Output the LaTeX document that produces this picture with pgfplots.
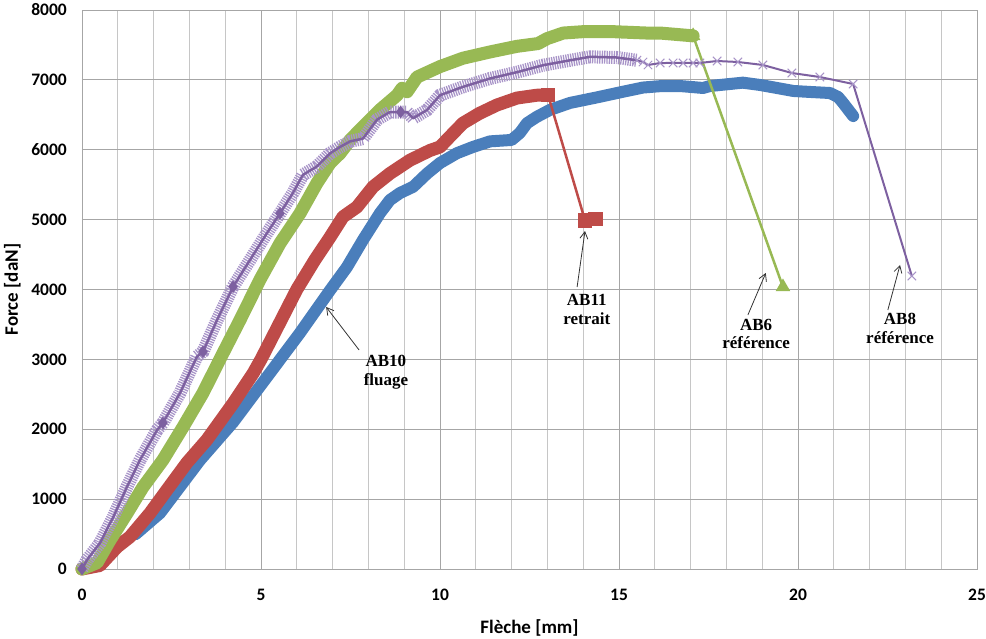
\documentclass[border=0pt]{standalone}
\usepackage{pgfplots}
\pgfplotsset{compat=1.18}
\usepackage{fontspec}
\setmainfont{Carlito}
\newfontfamily\tnr{Liberation Serif}
\usetikzlibrary{arrows.meta}
\definecolor{cblue}{HTML}{4A7EBB}
\definecolor{cred}{HTML}{BE4B48}
\definecolor{cgreen}{HTML}{98B954}
\definecolor{cpurple}{HTML}{7D60A0}
\definecolor{cpurplel}{HTML}{A894C8}
\begin{document}
\begin{tikzpicture}
\path[use as bounding box] (-82pt,-70pt) rectangle (904pt,569pt);
\begin{axis}[at={(0pt,0pt)}, anchor=south west, scale only axis,
  width=895pt, height=559pt,
  xmin=0, xmax=25, ymin=0, ymax=8000,
  xtick={0,5,...,25}, ytick={0,1000,...,8000}, minor x tick num=4,
  grid=both,
  major grid style={color=gray!70, line width=0.8pt},
  minor grid style={color=gray!45, line width=0.8pt},
  axis line style={gray!70, line width=0.8pt},
  major tick length=0pt, minor tick length=0pt,
  tick label style={font=\bfseries\fontsize{17.5}{19}\selectfont},
  /pgf/number format/assume math mode=true,
  /pgf/number format/1000 sep={},
  xticklabel style={inner sep=0pt, yshift=-20pt},
  yticklabel style={inner sep=0pt, xshift=-15pt},
  xlabel={Flèche [mm]}, ylabel={Force [daN]},
  label style={font=\bfseries\fontsize{19}{21}\selectfont},
  xlabel style={at={(axis description cs:0.5,-0.0894)}, anchor=north, inner sep=0pt},
  ylabel style={at={(axis description cs:-0.0682,0.5)}, anchor=south, inner sep=0pt},
  clip=false]

% AB10 fluage (blue)
\addplot[cblue, line width=12pt, line join=round, line cap=round] coordinates {
(1.5,500)(2.18,800)(3.3,1560)(4.22,2100)(5.17,2750)(6.09,3380)(6.93,3990)
(7.4,4320)(7.85,4710)(8.32,5090)(8.6,5280)(8.88,5380)(9.25,5470)(9.64,5660)
(10.0,5810)(10.47,5950)(10.92,6040)(11.4,6120)(12.0,6140)(12.23,6240)
(12.43,6380)(12.7,6470)(13.07,6570)(13.63,6670)(14.39,6750)(15.11,6830)
(15.67,6890)(16.15,6910)(16.7,6912)(17.35,6884)(17.54,6912)(18.46,6960)
(18.94,6927)(19.41,6884)(19.87,6841)(20.34,6827)(20.89,6812)(21.12,6755)
(21.26,6669)(21.54,6483)};
\addplot[cblue, only marks, mark=diamond*, mark size=6pt] coordinates {(21.26,6669)(21.54,6483)};

% AB11 retrait (red)
\addplot[cred, line width=13pt, line join=round, line cap=round] coordinates {
(0,0)(0.5,50)(0.98,315)(1.34,460)(1.9,800)(2.37,1130)(2.93,1520)(3.49,1850)
(4.22,2370)(4.78,2800)(5.0,3000)(5.5,3500)(6.0,4000)(6.5,4420)(6.93,4750)
(7.29,5040)(7.68,5180)(8.13,5470)(8.6,5660)(9.16,5850)(9.72,5990)(10.0,6040)
(10.28,6190)(10.64,6380)(11.1,6520)(11.59,6640)(12.15,6740)(12.7,6780)(13.02,6780)};
\addplot[cred, line width=2.5pt, mark=square*, mark size=6pt] coordinates {
(13.02,6780)(14.05,4990)(14.35,5010)};

% AB6 reference (green)
\addplot[cgreen, line width=13pt, line join=round, line cap=round] coordinates {
(0,0)(0.42,90)(0.78,410)(1.26,800)(1.7,1170)(2.26,1560)(2.82,2030)(3.38,2520)
(3.94,3090)(4.41,3560)(4.97,4140)(5.53,4660)(6.09,5090)(6.56,5520)(6.93,5810)
(7.21,5950)(7.49,6140)(7.85,6330)(8.32,6570)(8.8,6780)(8.94,6880)(9.08,6830)
(9.36,7040)(10.0,7190)(10.64,7310)(11.4,7400)(12.15,7480)(12.74,7520)
(12.99,7590)(13.44,7670)(14.0,7690)(14.83,7690)(15.78,7670)(16.15,7670)(17.07,7630)};
\addplot[cgreen, line width=2.5pt, mark=triangle*, mark size=6pt] coordinates {
(17.07,7630)(19.58,4036)};

% AB8 reference (purple)
\addplot[cpurplel, line width=13pt, line cap=butt, dash pattern=on 1.3pt off 1.1pt] coordinates {
(0,0)(0.14,130)(0.5,370)(0.87,740)(1.26,1180)(1.62,1560)(2.1,1990)(2.26,2090)
(2.74,2520)(3.21,3040)(3.38,3110)(3.77,3560)(4.22,4040)(4.69,4420)(5.17,4810)
(5.53,5090)(5.89,5380)(6.17,5640)(6.56,5760)(6.93,5950)(7.21,6040)(7.49,6120)
(7.85,6160)(8.24,6430)(8.6,6540)(9.08,6540)(9.25,6450)(9.64,6570)(10.0,6780)
(10.64,6900)(11.4,7020)(12.15,7110)(12.88,7210)(13.63,7280)(14.19,7330)
(14.94,7320)(15.5,7280)};
\addplot[cpurple, line width=2.5pt, line join=round] coordinates {
(0,0)(0.14,130)(0.5,370)(0.87,740)(1.26,1180)(1.62,1560)(2.1,1990)(2.26,2090)
(2.74,2520)(3.21,3040)(3.38,3110)(3.77,3560)(4.22,4040)(4.69,4420)(5.17,4810)
(5.53,5090)(5.89,5380)(6.17,5640)(6.56,5760)(6.93,5950)(7.21,6040)(7.49,6120)
(7.85,6160)(8.24,6430)(8.6,6540)(9.08,6540)(9.25,6450)(9.64,6570)(10.0,6780)
(10.64,6900)(11.4,7020)(12.15,7110)(12.88,7210)(13.63,7280)(14.19,7330)
(14.94,7320)(15.5,7280)};
\addplot[cpurple, line width=2pt, mark=x, mark size=6pt, mark options={cpurplel, line width=1pt}] coordinates {
(15.5,7280)(15.67,7256)(15.81,7213)(16.15,7241)(16.51,7242)(16.79,7242)(17.07,7242)
(17.26,7242)(17.74,7270)(18.32,7256)(19.02,7213)(19.83,7098)(20.61,7041)
(21.54,6941)(23.18,4193)};
\addplot[cpurple, only marks, mark=diamond*, mark size=6pt] coordinates {
(0,0)(2.26,2090)(3.38,3110)(4.22,4040)(5.53,5090)(8.9,6540)};

% annotations
\tikzset{ann/.style={font=\tnr\bfseries\fontsize{17}{19}\selectfont, anchor=base, inner sep=0pt},
  arr/.style={-{Straight Barb[length=7pt,width=8pt]}, line width=0.8pt, black!80}}
\node[ann] at (axis cs:8.49,2891) {AB10};
\node[ann] at (axis cs:8.49,2619) {fluage};
\draw[arr] (axis cs:7.74,3134) -- (axis cs:6.82,3750);
\node[ann] at (axis cs:14.1,3764) {AB11};
\node[ann] at (axis cs:14.1,3506) {retrait};
\draw[arr] (axis cs:13.83,4036) -- (axis cs:14.05,4837);
\node[ann] at (axis cs:18.83,3420) {AB6};
\node[ann] at (axis cs:18.83,3149) {référence};
\draw[arr] (axis cs:18.6,3635) -- (axis cs:19.1,4236);
\node[ann] at (axis cs:22.85,3492) {AB8};
\node[ann] at (axis cs:22.85,3220) {référence};
\draw[arr] (axis cs:22.51,3707) -- (axis cs:22.85,4351);
\end{axis}
\end{tikzpicture}
\end{document}
